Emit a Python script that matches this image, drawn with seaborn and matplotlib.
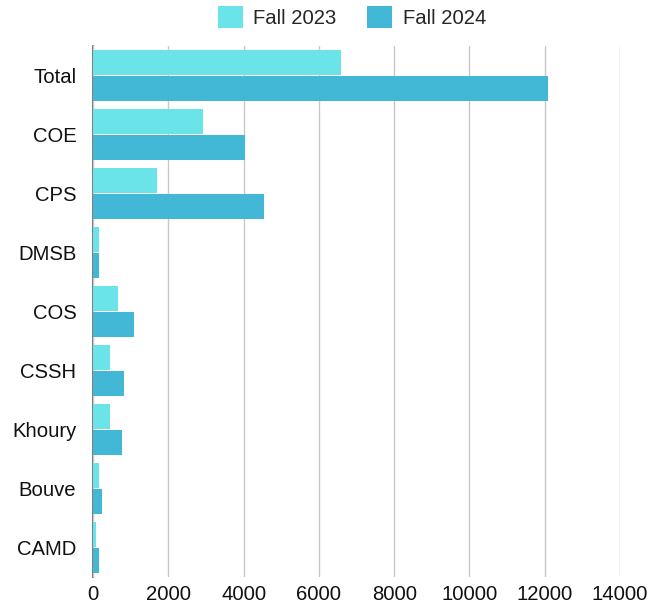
import matplotlib
matplotlib.use("Agg")
import matplotlib.pyplot as plt
import seaborn as sns
import pandas as pd

categories = ["Total", "COE", "CPS", "DMSB", "COS", "CSSH", "Khoury", "Bouve", "CAMD"]
fall_2023 = [6590, 2920, 1710, 150, 660, 450, 450, 165, 90]
fall_2024 = [12100, 4040, 4530, 155, 1080, 825, 770, 250, 150]
series_names = ["Fall 2023", "Fall 2024"]
x_ticks = [0, 2000, 4000, 6000, 8000, 10000, 12000, 14000]
colors = ["#6AE4E8", "#43B8D6"]

df = pd.DataFrame({
    "category": categories * 2,
    "value": fall_2023 + fall_2024,
    "series": [series_names[0]] * len(categories) + [series_names[1]] * len(categories),
})

sns.set_theme(style="white")
plt.rcParams["font.family"] = ["Liberation Sans", "DejaVu Sans"]

fig = plt.figure(figsize=(6.48, 6.09), dpi=100)
ax = fig.add_axes([93 / 648, 1 - 577 / 609, (620 - 93) / 648, (577 - 46) / 609])

sns.barplot(data=df, y="category", x="value", hue="series", order=categories,
            hue_order=series_names, palette=colors, orient="h", width=0.9, gap=0.07,
            saturation=1, linewidth=0, ax=ax, legend=True)

ax.set_xlim(0, 14000)
ax.set_ylim(8.5, -0.5)
ax.set_xticks(x_ticks)
ax.set_xticklabels([str(t) for t in x_ticks])
ax.set_xlabel("")
ax.set_ylabel("")
ax.grid(axis="x", color="#C8C8C8", linewidth=1)
ax.grid(axis="y", visible=False)
ax.set_axisbelow(True)
for s in ["top", "right", "bottom"]:
    ax.spines[s].set_visible(False)
ax.spines["left"].set_color("#666666")
ax.spines["left"].set_linewidth(1.2)
ax.spines["left"].set_zorder(0.5)
ax.tick_params(axis="y", length=0, pad=12, labelsize=14.6, labelcolor="#111111")
ax.tick_params(axis="x", length=0, pad=6, labelsize=14.6, labelcolor="#111111")

ax.legend(loc="lower center", bbox_to_anchor=(352 / 648, 1 - 42 / 609),
          bbox_transform=fig.transFigure, ncol=2, frameon=False, fontsize=14.6,
          handlelength=1.25, handleheight=1.25, handletextpad=0.5, columnspacing=1.5,
          borderpad=0.2)

fig.savefig("out.png", dpi=100)
